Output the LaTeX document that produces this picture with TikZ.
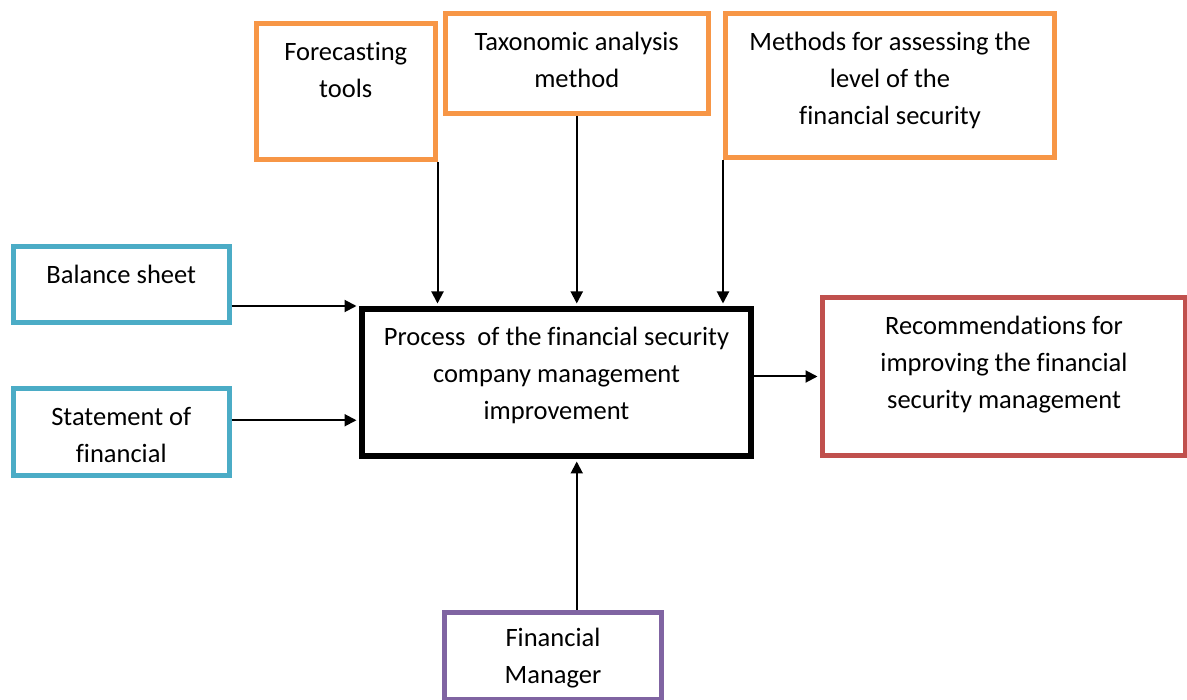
\documentclass[tikz,border=0pt]{standalone}
\usepackage{fontspec}
\setmainfont{Carlito}[Ligatures=NoCommon]
\usetikzlibrary{arrows.meta}
\definecolor{boxorange}{HTML}{F79646}
\definecolor{boxblue}{HTML}{4BACC6}
\definecolor{boxred}{HTML}{C0504D}
\definecolor{boxpurple}{HTML}{8064A2}
\newcommand{\boxtext}[4][37pt]{\parbox[c][#3pt][t]{#2pt}{\centering\rule{0pt}{#1}#4}}
\tikzset{
    fbox/.style={draw,line width=5pt,inner sep=0pt,anchor=north west,
        font=\fontsize{26.5}{37}\selectfont},
    obox/.style={fbox,draw=boxorange},
    cbox/.style={fbox,draw=boxblue},
    rbox/.style={fbox,draw=boxred},
    mbox/.style={fbox,draw=boxpurple},
    pbox/.style={fbox,draw=black,line width=6pt},
    arr/.style={draw,line width=2pt,-{Triangle[length=12pt,width=12pt]},shorten >=2.5pt},
}
\begin{document}
\begin{tikzpicture}[x=1pt,y=-1pt]
\useasboundingbox (0,0) rectangle (1187,700);
\node[obox] (fore) at (254,21.5) {\boxtext{178.5}{136}{Forecasting\\tools}};
\node[obox] (tax) at (442.5,11) {\boxtext{263.5}{100}{Taxonomic analysis\\method}};
\node[obox] (meth) at (723,11) {\boxtext{329}{144}{Methods for assessing the\\level of the\\financial security}};
\node[cbox] (bal) at (11,244.5) {\boxtext{215.5}{76}{Balance sheet}};
\node[cbox] (stat) at (11,386.5) {\boxtext{215.5}{86.5}{Statement of\\financial}};
\node[pbox] (proc) at (359,306) {\boxtext{389}{147}{Process\ \ of the financial security\\company management\\improvement}};
\node[rbox] (rec) at (820,295) {\boxtext{363}{158}{Recommendations for\\improving the financial\\security management}};
\node[mbox] (man) at (442,609.7) {\boxtext[34pt]{217}{87.3}{Financial\\Manager}};
\path[arr] (fore.south east) -- (fore.south east |- proc.north);
\path[arr] (tax.south) -- (tax.south |- proc.north);
\path[arr] (meth.south west) -- (meth.south west |- proc.north);
\path[arr] (bal.east |- proc.north west) -- (proc.north west);
\path[arr] ([yshift=12pt]stat.east) -- ([yshift=12pt]stat.east -| proc.west);
\path[arr] (proc.east |- rec.west) -- (rec.west);
\path[arr] (tax.south |- man.north) -- (tax.south |- proc.south);
\end{tikzpicture}
\end{document}
